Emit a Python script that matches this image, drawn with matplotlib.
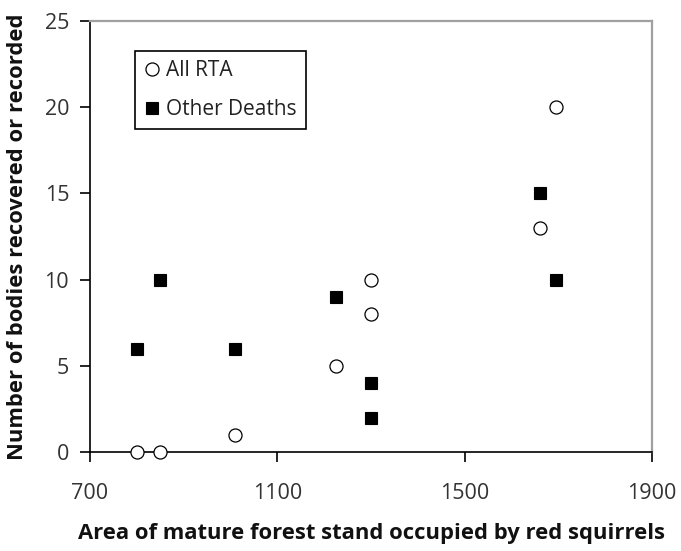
import matplotlib
matplotlib.use("Agg")
import matplotlib.pyplot as plt

plt.rcParams['font.family'] = ['Open Sans', 'DejaVu Sans']

rta_x = [800, 850, 1010, 1225, 1300, 1300, 1660, 1695]
rta_y = [0, 0, 1, 5, 10, 8, 13, 20]
other_x = [800, 850, 1010, 1225, 1300, 1300, 1660, 1695]
other_y = [6, 10, 6, 9, 4, 2, 15, 10]
xticks = [700, 1100, 1500, 1900]
yticks = [0, 5, 10, 15, 20, 25]

fig = plt.figure(figsize=(6.81, 5.51), dpi=100)
ax = fig.add_axes([90/681, 1 - 452/551, 562/681, 431/551])

ax.plot(rta_x, rta_y, linestyle='none', marker='o', markersize=9.4,
        markerfacecolor='white', markeredgecolor='black', markeredgewidth=0.9,
        label='All RTA', clip_on=False, zorder=3)
ax.plot(other_x, other_y, linestyle='none', marker='s', markersize=8.8,
        markerfacecolor='black', markeredgecolor='black', markeredgewidth=0.8,
        label='Other Deaths', clip_on=False, zorder=4)

ax.set_xlim(700, 1900)
ax.set_ylim(0, 25)
ax.set_xticks(xticks)
ax.set_yticks(yticks)
ax.tick_params(direction='out', length=7, width=1.2, labelsize=15.5, colors='black',
               labelcolor='#333333')
ax.tick_params(axis='y', pad=8)
ax.tick_params(axis='x', pad=15)

for s in ['top', 'right']:
    ax.spines[s].set_color('#a0a0a0')
    ax.spines[s].set_linewidth(1.6)
for s in ['left', 'bottom']:
    ax.spines[s].set_color('black')
    ax.spines[s].set_linewidth(1.2)

ax.set_xlabel('Area of mature forest stand occupied by red squirrels',
              fontsize=15.8, fontweight='bold', labelpad=14, color='#111111')
ax.set_ylabel('Number of bodies recovered or recorded',
              fontsize=15.8, fontweight='bold', labelpad=12, color='#111111')

leg = ax.legend(loc='upper left', bbox_to_anchor=(45/562, 1 - 30/431), fontsize=15,
                frameon=True, fancybox=False, edgecolor='black', framealpha=1,
                handlelength=0.7, handletextpad=0.34, borderpad=0.45,
                labelspacing=0.85, borderaxespad=0)
leg.get_frame().set_linewidth(1.2)
for t in leg.get_texts():
    t.set_color('#222222')

fig.savefig('out.png', dpi=100)
